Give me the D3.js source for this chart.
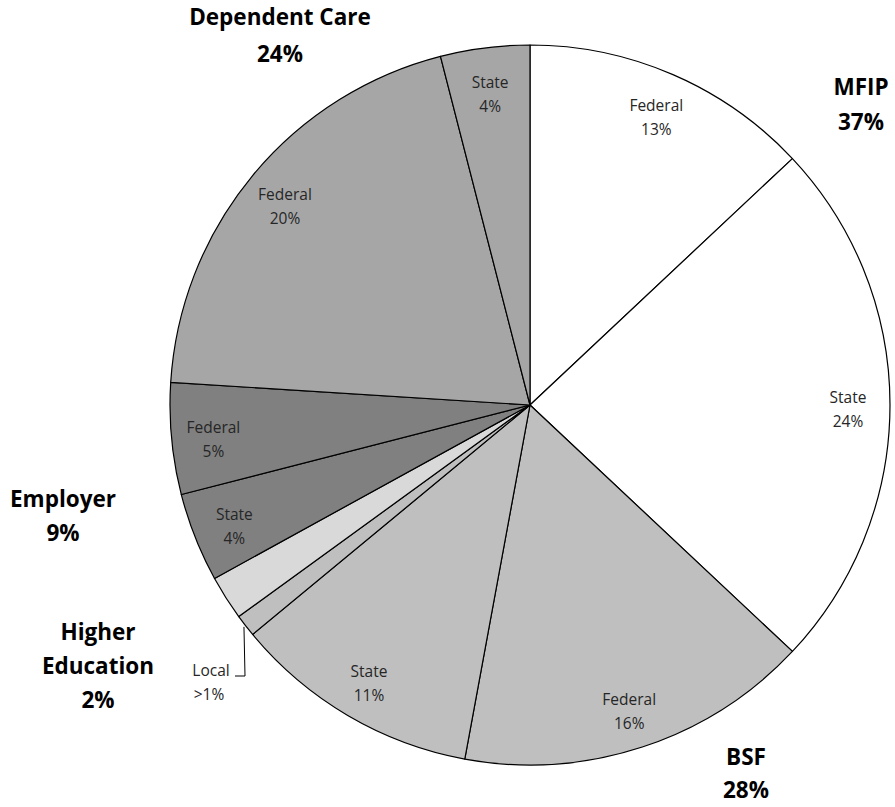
<!DOCTYPE html>
<html>
<head>
    <meta charset="UTF-8">
    <title>Funding by Program</title>
    <script src="https://d3js.org/d3.v7.min.js"></script>
    <style type="text/css">
      body{ margin:0; background-color:white; }
      svg{ background-color:white; display:block; }
      text{ font-family: "Open Sans", sans-serif; }
    </style>
</head>
<body>
    <svg id="chart"></svg>
    <script>
        // slices clockwise from 12 o'clock
        const programs = ["MFIP", "MFIP", "BSF", "BSF", "BSF", "Higher Education", "Employer", "Employer", "Dependent Care", "Dependent Care"];
        const sources  = ["Federal", "State", "Federal", "State", "Local", "", "State", "Federal", "Federal", "State"];
        const shares   = [13.0, 24.0, 15.9, 11.1, 1.0, 2.0, 4.0, 5.0, 20.0, 4.0];
        const sliceLabels = ["13%", "24%", "16%", "11%", ">1%", "", "4%", "5%", "20%", "4%"];

        const groupNames  = ["MFIP", "BSF", "Higher Education", "Employer", "Dependent Care"];
        const groupTotals = ["37%", "28%", "2%", "9%", "24%"];
        const groupColors = ["#ffffff", "#bfbfbf", "#d9d9d9", "#808080", "#a6a6a6"];

        const width = 895, height = 807;
        const cx = 530, cy = 405, radius = 360;

        const svg = d3.select("#chart")
          .attr("width", width)
          .attr("height", height);

        const chart = svg.append("g")
          .attr("transform", `translate(${cx}, ${cy})`);

        const data = shares.map((v, i) => ({program: programs[i], source: sources[i], value: v, label: sliceLabels[i]}));

        const color = d3.scaleOrdinal().domain(groupNames).range(groupColors);

        const pie = d3.pie().sort(null).value(d => d.value);
        const arcs = pie(data);

        const arc = d3.arc().innerRadius(0).outerRadius(radius);
        const labelArc = d3.arc().innerRadius(318).outerRadius(318);

        chart.selectAll("path")
          .data(arcs)
          .enter()
          .append("path")
          .attr("d", arc)
          .style("fill", d => color(d.data.program))
          .style("stroke", "black")
          .style("stroke-width", 1.2)
          .style("stroke-linejoin", "round");

        // inside labels (not for the tiny slices)
        const inside = chart.selectAll("text.inside")
          .data(arcs.filter(d => d.data.value >= 3))
          .enter()
          .append("text")
          .attr("class", "inside")
          .attr("text-anchor", "middle")
          .attr("transform", d => `translate(${labelArc.centroid(d)})`)
          .style("font-size", "15.5px")
          .style("fill", "#262626");
        inside.append("tspan").attr("x", 0).attr("y", -2).text(d => d.data.source);
        inside.append("tspan").attr("x", 0).attr("y", 22).text(d => d.data.label);

        // leader label for the local slice
        const local = arcs.find(d => d.data.source === "Local");
        const edge = d3.arc().innerRadius(radius + 2).outerRadius(radius + 2).centroid(local);
        const lx = -287, ly = 271;
        chart.append("path")
          .attr("d", `M${edge[0]},${edge[1]} L${lx + 2},${ly} L${lx - 8},${ly}`)
          .style("fill", "none")
          .style("stroke", "black")
          .style("stroke-width", 1);
        const lt = chart.append("text")
          .attr("text-anchor", "middle")
          .style("font-size", "15.5px")
          .style("fill", "#262626");
        lt.append("tspan").attr("x", lx - 32).attr("y", ly).text(local.data.source);
        lt.append("tspan").attr("x", lx - 34).attr("y", ly + 24).text(local.data.label);

        // program totals outside the pie
        const groupPos = {
          "MFIP": [861, 95, 35],
          "BSF": [746, 765, 33],
          "Higher Education": [98, 640, 34],
          "Employer": [63, 507, 34],
          "Dependent Care": [280, 25, 37]
        };
        groupNames.forEach((g, i) => {
          const t = svg.append("text")
            .attr("text-anchor", "middle")
            .style("font-size", "22.5px")
            .style("font-weight", "bold")
            .style("fill", "black");
          const lines = g === "Higher Education" ? ["Higher", "Education"] : [g];
          const p = groupPos[g];
          lines.concat([groupTotals[i]]).forEach((s, j) => {
            t.append("tspan").attr("x", p[0]).attr("y", p[1] + j * p[2]).text(s);
          });
        });
    </script>
</body>
</html>
